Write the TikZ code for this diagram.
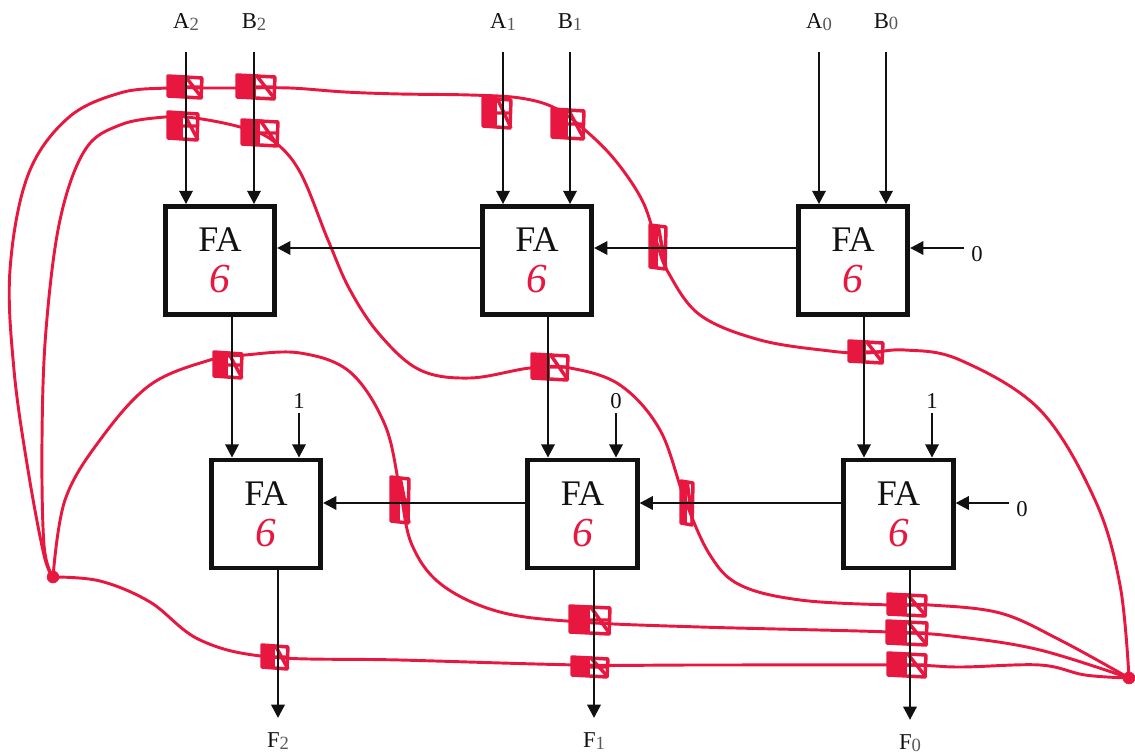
\documentclass[tikz,border=0pt]{standalone}
\usepackage{fontspec}
\setmainfont{Liberation Serif}
\usetikzlibrary{arrows.meta,calc}
\definecolor{ink}{HTML}{111111}
\definecolor{pen}{HTML}{E8173F}
\newcommand{\sbs}[1]{{\fontsize{14}{14}\selectfont\color{black!65}\raisebox{-1pt}{#1}}}
\tikzset{
  fabox/.style={draw=ink,line width=3.6pt,fill=white,minimum width=82pt,minimum height=81pt,inner sep=0pt,align=center,font=\fontsize{27}{31}\selectfont,text=ink},
  lbl/.style={inner sep=0pt,font=\fontsize{17}{20}\selectfont,text=ink},
  arr/.style={draw=ink,line width=1.9pt,-{Triangle[length=10pt,width=10pt]}},
  wire/.style={draw=pen,line width=2.2pt,line cap=round,line join=round},
  scr/.style={draw=pen,line width=2.6pt,line join=round,fill=none},
  dot/.style={circle,fill=pen,draw=pen,inner sep=0pt,minimum size=9pt}
}
\newcommand{\six}{{\color{pen}\fontsize{31}{31}\selectfont\itshape 6}}
\begin{document}
\begin{tikzpicture}[x=0.75pt,y=-0.75pt]
\useasboundingbox (0,0) rectangle (1135,756);

% junctions
\node[dot] (jl) at (53,577) {};
\node[dot] (jr) at (1129,678) {};

% hand-drawn red wires
\draw[wire] plot[smooth,tension=0.6] coordinates {(jl) (44,555) (28,470) (14,370) (10,270) (28,175) (68,118) (120,93) (168,88) (205,88) (240,88) (290,88) (345,92) (400,94) (470,95) (520,98) (555,108) (585,130) (615,160) (642,200) (656,240) (668,272) (700,315) (760,340) (830,351) (866,353) (905,350) (960,360) (1040,410) (1095,500) (1120,585) (jr)};
\draw[wire] plot[smooth,tension=0.6] coordinates {(jl) (44,545) (42,440) (46,330) (60,220) (85,150) (120,125) (165,117) (195,118) (240,127) (272,140) (300,172) (328,240) (350,290) (380,335) (420,370) (470,378) (530,368) (570,368) (620,385) (660,430) (685,500) (710,555) (740,585) (800,600) (890,605) (930,605) (1000,613) (1060,640) (jr)};
\draw[wire] plot[smooth,tension=0.6] coordinates {(jl) (65,500) (100,440) (150,385) (210,360) (245,355) (300,353) (350,372) (385,425) (400,490) (412,545) (442,585) (500,612) (580,622) (700,627) (890,632) (960,637) (1040,650) (jr)};
\draw[wire] plot[smooth,tension=0.6] coordinates {(jl) (100,581) (150,602) (200,640) (270,657) (400,660) (580,665) (700,665) (900,665) (960,667) (1040,665) (1085,675) (jr)};

% scribbled crossing marks
\foreach \x/\y/\w/\h in {185/87/17/11,256/87/19/12,183/126/15/14,260/133/18/13,497/113/14/15,568/124/16/15,658/247/8/22,228/365/14/13,550/367/18/13,866/352/17/11,400/500/9/23,687/503/6/22,590/620/20/14,907/605/19/11,907/633/20/12,907/665/19/12,590/667/18/10,275/657/13/12}{
  \fill[pen] (\x-\w,\y-\h) rectangle (\x,\y+\h);
  \draw[scr] (\x-\w,\y-\h) -- (\x+\w,\y-\h+2) -- (\x+\w-1,\y+\h) -- (\x-\w,\y+\h-2) -- cycle;
  \draw[scr] (\x,\y-\h) -- (\x+\w,\y+\h) (\x,\y) -- (\x+\w,\y);
}

% full adders
\node[fabox] (fa2t) at (220,260.5) {FA\\\six};
\node[fabox] (fa1t) at (537,260.5) {FA\\\six};
\node[fabox] (fa0t) at (853,260.5) {FA\\\six};
\node[fabox] (fa2b) at (266,514) {FA\\\six};
\node[fabox] (fa1b) at (582.5,514) {FA\\\six};
\node[fabox] (fa0b) at (898.5,514) {FA\\\six};

% top inputs
\node[lbl] (a2) at (186,22) {A\sbs{2}};
\node[lbl] (b2) at (254,22) {B\sbs{2}};
\node[lbl] (a1) at (503,22) {A\sbs{1}};
\node[lbl] (b1) at (570,22) {B\sbs{1}};
\node[lbl] (a0) at (819,22) {A\sbs{0}};
\node[lbl] (b0) at (886,22) {B\sbs{0}};
\foreach \n/\t in {a2/fa2t,b2/fa2t,a1/fa1t,b1/fa1t,a0/fa0t,b0/fa0t}
  \draw[arr,shorten <=16pt] (\n.south) -- (\n.south |- \t.north);

% constants
\node[lbl] (c0t) at (977,254) {0};
\node[lbl] (c0b) at (1022,509) {0};
\node[lbl] (k2) at (299,401) {1};
\node[lbl] (k1) at (616,401) {0};
\node[lbl] (k0) at (932,401) {1};
\draw[arr,shorten <=5pt] ([yshift=4.5pt]c0t.west) -- ([yshift=4.5pt]c0t.west -| fa0t.east);
\draw[arr,shorten <=5pt] ([yshift=4.5pt]c0b.west) -- ([yshift=4.5pt]c0b.west -| fa0b.east);
\foreach \n/\t in {k2/fa2b,k1/fa1b,k0/fa0b}
  \draw[arr,shorten <=3pt] (\n.south) -- (\n.south |- \t.north);

% carries
\draw[arr] (fa0t.west |- 0,248) -- (fa1t.east |- 0,248);
\draw[arr] (fa1t.west |- 0,248) -- (fa2t.east |- 0,248);
\draw[arr] (fa0b.west |- 0,503) -- (fa1b.east |- 0,503);
\draw[arr] (fa1b.west |- 0,503) -- (fa2b.east |- 0,503);

% sums between rows
\draw[arr] (fa2t.south -| 232,0) -- (fa2b.north -| 232,0);
\draw[arr] (fa1t.south -| 548,0) -- (fa1b.north -| 548,0);
\draw[arr] (fa0t.south -| 864,0) -- (fa0b.north -| 864,0);

% outputs
\node[lbl] (f2) at (278,741) {F\sbs{2}};
\node[lbl] (f1) at (594,741) {F\sbs{1}};
\node[lbl] (f0) at (910,743) {F\sbs{0}};
\draw[arr,shorten >=11pt] (fa2b.south -| f2) -- (f2.north);
\draw[arr,shorten >=11pt] (fa1b.south -| f1) -- (f1.north);
\draw[arr,shorten >=11pt] (fa0b.south -| f0) -- (f0.north);
\end{tikzpicture}
\end{document}
